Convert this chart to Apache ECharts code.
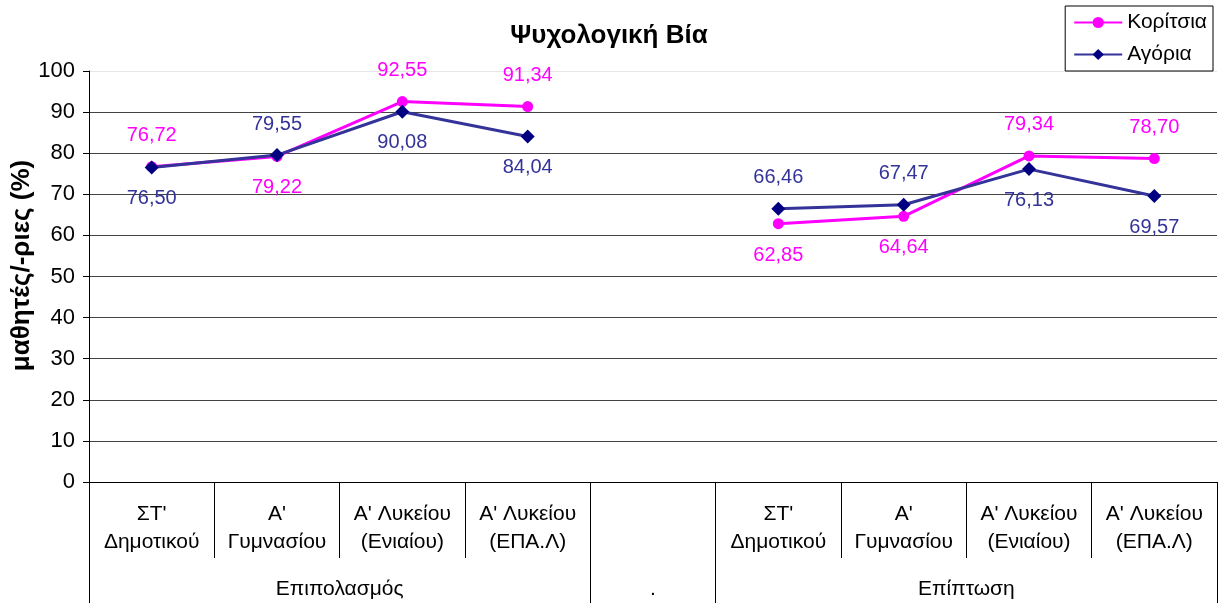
<!DOCTYPE html>
<html>
<head>
<meta charset="utf-8">
<script src="https://cdn.jsdelivr.net/npm/echarts@6/dist/echarts.min.js"></script>
<style>html,body{margin:0;padding:0;background:#fff}#c{width:1218px;height:603px}</style>
</head>
<body>
<div id="c"></div>
<script>
var categories = ["ΣΤ'\nΔημοτικού", "Α'\nΓυμνασίου", "Α' Λυκείου\n(Ενιαίου)", "Α' Λυκείου\n(ΕΠΑ.Λ)", "", "ΣΤ'\nΔημοτικού", "Α'\nΓυμνασίου", "Α' Λυκείου\n(Ενιαίου)", "Α' Λυκείου\n(ΕΠΑ.Λ)"];
var girls = [76.72, 79.22, 92.55, 91.34, null, 62.85, 64.64, 79.34, 78.70];
var boys = [76.50, 79.55, 90.08, 84.04, null, 66.46, 67.47, 76.13, 69.57];
var girlsLabelPos = ['top', 'bottom', 'top', 'top', 'top', 'bottom', 'bottom', 'top', 'top'];
var boysLabelPos = ['bottom', 'top', 'bottom', 'bottom', 'bottom', 'top', 'top', 'bottom', 'bottom'];
var groups = [{label: 'Επιπολασμός', center: 2}, {label: '.', center: 4.5}, {label: 'Επίπτωση', center: 7}];
var groupBounds = [0, 4, 5, 9];
var yTicks = [0, 10, 20, 30, 40, 50, 60, 70, 80, 90, 100];

var FONT = "'Liberation Sans', Arial, sans-serif";
function fmt(v) { return v.toFixed(2).replace('.', ','); }
function mk(vals, pos) {
  return vals.map(function (v, i) {
    return v == null ? null : {value: v, label: {position: pos[i]}};
  });
}

var chart = echarts.init(document.getElementById('c'));
chart.setOption({
  animation: false,
  textStyle: {fontFamily: FONT},
  title: {
    text: 'Ψυχολογική Βία', left: 'center', top: 18,
    textStyle: {fontFamily: FONT, fontSize: 26, fontWeight: 'bold', color: '#000'}
  },
  legend: {
    orient: 'vertical', right: 5, top: 6,
    borderColor: '#000', borderWidth: 1, padding: [6, 6, 6, 8],
    itemWidth: 48, itemHeight: 14, itemGap: 11,
    textStyle: {fontFamily: FONT, fontSize: 21, color: '#000'},
    data: ['Κορίτσια', 'Αγόρια']
  },
  grid: {left: 89, right: 1, top: 71, bottom: 121, containLabel: false, outerBoundsMode: 'none'},
  xAxis: [{
    type: 'category', data: categories, boundaryGap: true, position: 'bottom',
    axisLine: {lineStyle: {color: '#000', width: 1}},
    axisTick: {show: true, interval: 0, length: 76, lineStyle: {color: '#000'}},
    axisLabel: {interval: 0, color: '#000', fontSize: 21, lineHeight: 28, margin: 18, fontFamily: FONT}
  }, {
    type: 'value', min: 0, max: 9, position: 'bottom', offset: 76,
    axisLine: {show: false},
    splitLine: {show: false},
    axisTick: {show: true, customValues: groupBounds, length: 50, lineStyle: {color: '#000'}},
    axisLabel: {
      customValues: groups.map(function (g) { return g.center; }),
      formatter: function (v) {
        for (var i = 0; i < groups.length; i++) if (Math.abs(groups[i].center - v) < 1e-6) return groups[i].label;
        return '';
      },
      color: '#000', fontSize: 21, lineHeight: 24, margin: 19, fontFamily: FONT
    }
  }],
  yAxis: {
    type: 'value', min: 0, max: 100, interval: 10,
    name: 'μαθητές/-ριες (%)', nameLocation: 'middle', nameGap: 54, nameRotate: 90,
    nameMoveOverlap: false,
    nameTextStyle: {fontFamily: FONT, fontSize: 26, fontWeight: 'bold', color: '#000', padding: [0, 0, 0, 22]},
    axisLine: {show: true, lineStyle: {color: '#000'}},
    axisTick: {show: true, length: 6, lineStyle: {color: '#000'}},
    axisLabel: {color: '#000', fontSize: 22, margin: 14, fontFamily: FONT,
      formatter: function (v) { return yTicks.indexOf(v) >= 0 ? String(v) : ''; }},
    splitLine: {show: true, lineStyle: {color: ['#444', '#444', '#444', '#444', '#444', '#444', '#444', '#444', '#444', '#444', '#e6e6e6'], width: 1}}
  },
  series: [{
    name: 'Κορίτσια', type: 'line', xAxisIndex: 0, data: mk(girls, girlsLabelPos),
    connectNulls: false,
    symbol: 'circle', symbolSize: 11,
    lineStyle: {color: '#FF00FF', width: 3},
    itemStyle: {color: '#FF00FF'},
    label: {show: true, distance: 16, color: '#FF00FF', fontSize: 20, fontFamily: FONT,
      formatter: function (p) { return fmt(p.value); }},
    z: 3
  }, {
    name: 'Αγόρια', type: 'line', xAxisIndex: 0, data: mk(boys, boysLabelPos),
    connectNulls: false,
    symbol: 'diamond', symbolSize: 14,
    lineStyle: {color: '#333399', width: 3},
    itemStyle: {color: '#000080'},
    label: {show: true, distance: 14, color: '#333399', fontSize: 20, fontFamily: FONT,
      formatter: function (p) { return fmt(p.value); }},
    z: 4
  }]
});
</script>
</body>
</html>
